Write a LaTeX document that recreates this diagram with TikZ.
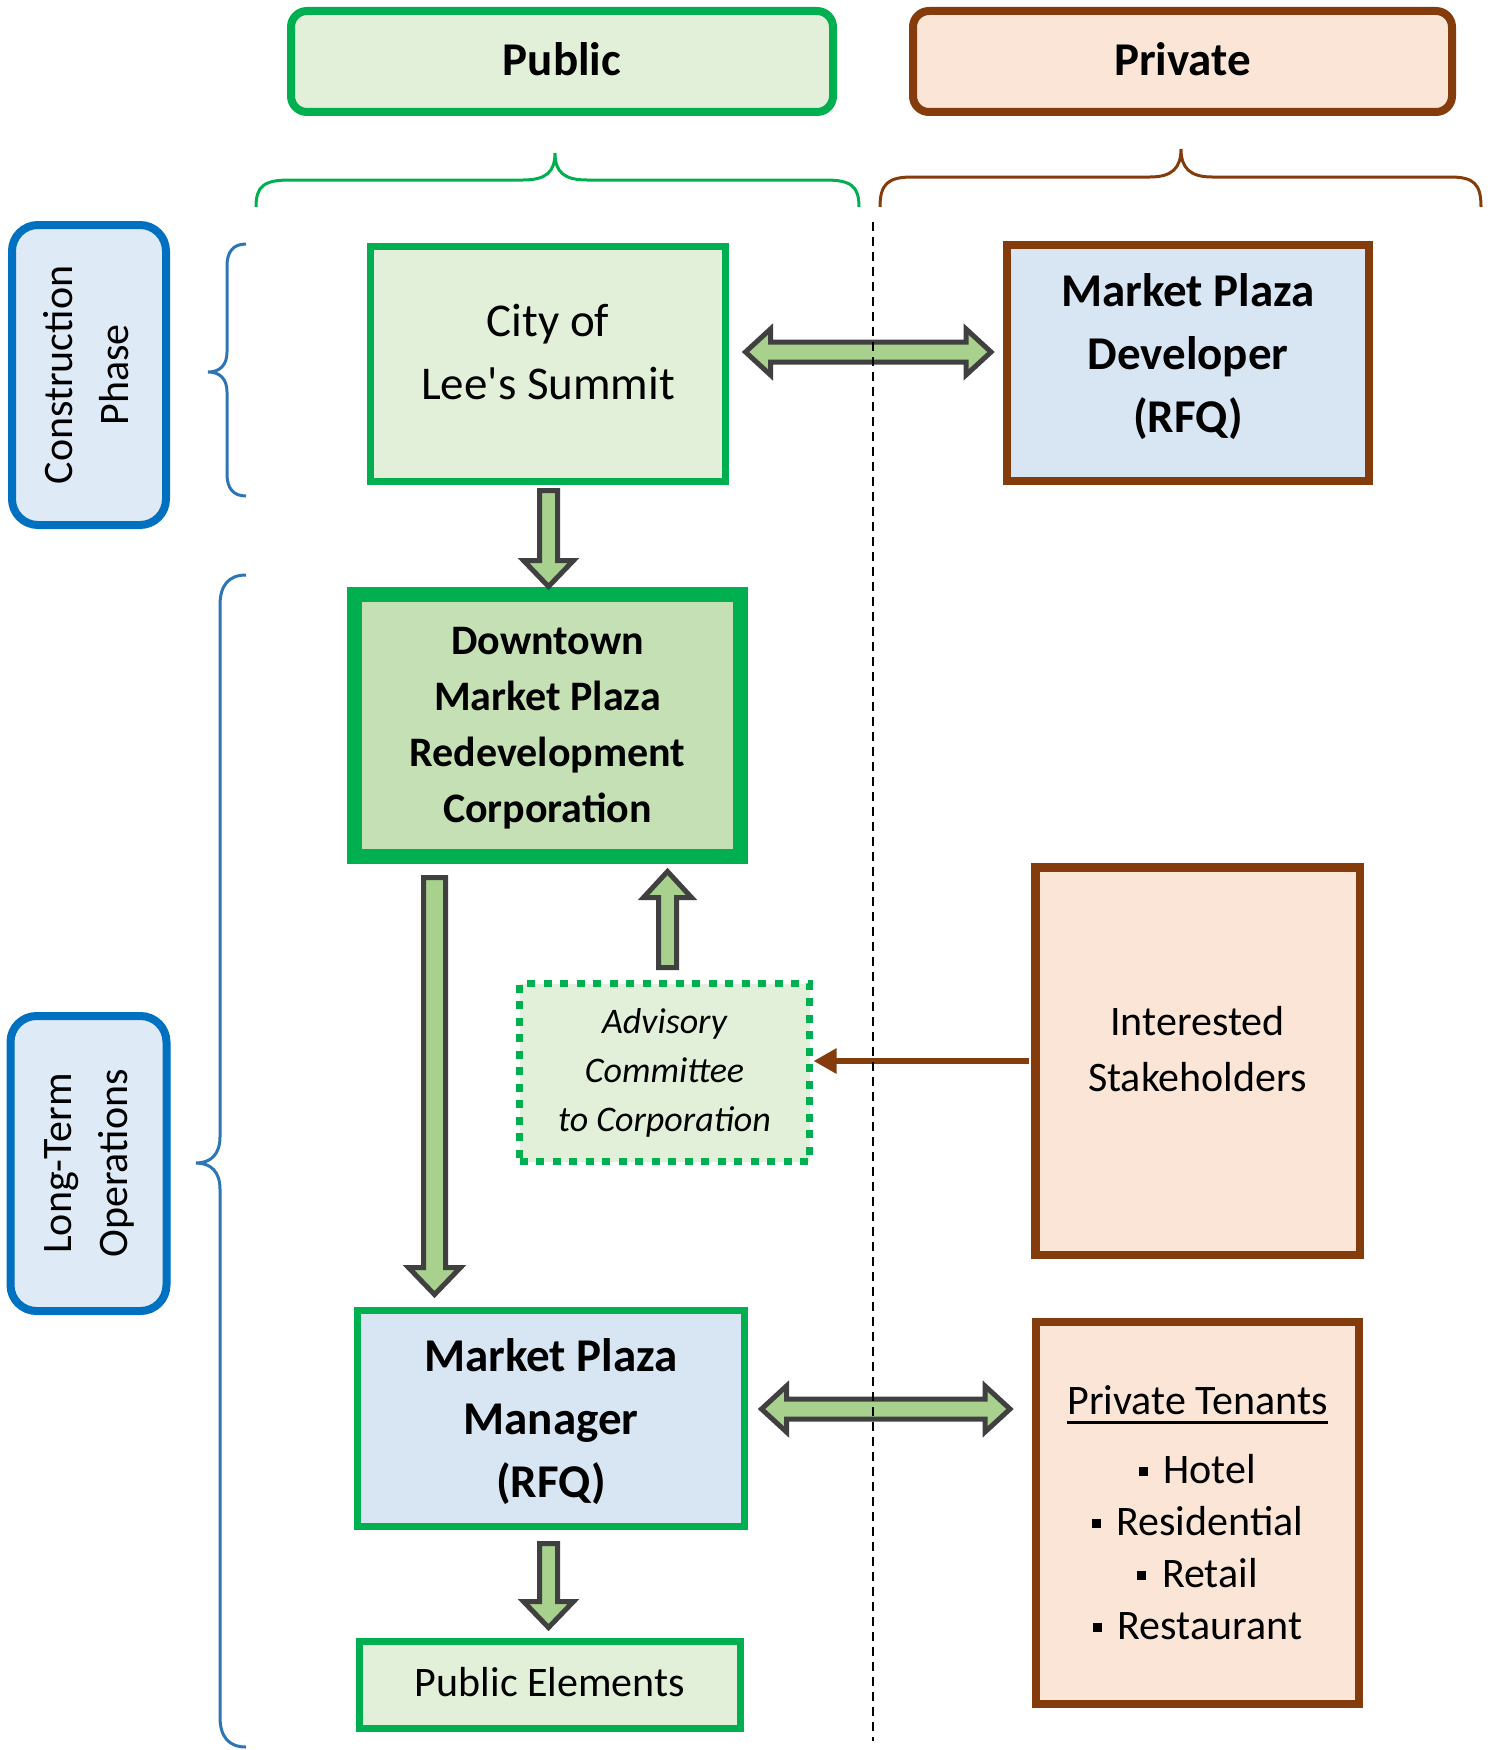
\documentclass[tikz,border=0pt]{standalone}
\usepackage{fontspec}
\usepackage{graphicx}
\setmainfont{Carlito}
\usetikzlibrary{calc,arrows.meta}
\definecolor{pgreen}{HTML}{00B050}
\definecolor{lgreen}{HTML}{E2F0D9}
\definecolor{mgreen}{HTML}{C5E0B4}
\definecolor{brownc}{HTML}{843C0C}
\definecolor{peach}{HTML}{FBE5D6}
\definecolor{blueb}{HTML}{0070C0}
\definecolor{lblue}{HTML}{DEEBF7}
\definecolor{texblue}{HTML}{D8E6F4}
\definecolor{afill}{HTML}{A9D18E}
\definecolor{adraw}{HTML}{404040}
\definecolor{bbrace}{HTML}{2E75B6}
\newcommand\fA{\fontsize{47}{63}\selectfont}
\newcommand\fB{\fontsize{42}{56}\selectfont}
\newcommand\fC{\fontsize{36}{49}\selectfont}
\newsavebox\ulbox
\newcommand\ulx[1]{\sbox\ulbox{#1}\rlap{\rule[-9pt]{\wd\ulbox}{2.5pt}}\usebox\ulbox}
\newcommand\sqb{\rule[0.19em]{0.21em}{0.21em}\hspace{0.38em}}
\newcommand\downblock[5]{%
  \draw[blockarrow] let \p1=(#1), \p2=(#2) in
  (\x1-#3pt,\y1) -- (\x1+#3pt,\y1) -- (\x1+#3pt,\y2+#5pt) -- (\x1+#4pt,\y2+#5pt)
  -- (\x1,\y2) -- (\x1-#4pt,\y2+#5pt) -- (\x1-#3pt,\y2+#5pt) -- cycle;}
\newcommand\upblock[5]{%
  \draw[blockarrow] let \p1=(#1), \p2=(#2) in
  (\x1-#3pt,\y1) -- (\x1+#3pt,\y1) -- (\x1+#3pt,\y2-#5pt) -- (\x1+#4pt,\y2-#5pt)
  -- (\x1,\y2) -- (\x1-#4pt,\y2-#5pt) -- (\x1-#3pt,\y2-#5pt) -- cycle;}
\newcommand\hdouble[5]{%
  \draw[blockarrow] let \p1=(#1), \p2=(#2) in
  (\x1,\y1) -- (\x1+#5pt,\y1+#4pt) -- (\x1+#5pt,\y1+#3pt) -- (\x2-#5pt,\y1+#3pt)
  -- (\x2-#5pt,\y1+#4pt) -- (\x2,\y1) -- (\x2-#5pt,\y1-#4pt) -- (\x2-#5pt,\y1-#3pt)
  -- (\x1+#5pt,\y1-#3pt) -- (\x1+#5pt,\y1-#4pt) -- cycle;}
\begin{document}
\begin{tikzpicture}[x=1pt,y=-1pt,
  box/.style={inner sep=0pt, outer sep=0pt},
  hdrg/.style={box, draw=pgreen, fill=lgreen, line width=8pt, rounded corners=16pt,
    font=\bfseries\fA},
  hdrb/.style={box, draw=brownc, fill=peach, line width=8pt, rounded corners=16pt,
    font=\bfseries\fA},
  phasebox/.style={box, draw=blueb, fill=lblue, line width=8pt, rounded corners=26pt,
    font=\fontsize{42}{56}\selectfont},
  gbox/.style={box, draw=pgreen, fill=lgreen, line width=7pt},
  gtexbox/.style={box, draw=pgreen, fill=texblue, line width=7pt},
  btexbox/.style={box, draw=brownc, fill=texblue, line width=8pt},
  pbox/.style={box, draw=brownc, fill=peach, line width=8.5pt},
  dmpbox/.style={box, draw=pgreen, fill=mgreen, line width=15pt},
  advbox/.style={box, draw=pgreen, fill=lgreen, line width=7pt,
    dash pattern=on 8pt off 8.5pt, align=center, font=\itshape\fC},
  txtA/.style={inner sep=0pt, align=center, font=\fA},
  txtAb/.style={inner sep=0pt, align=center, font=\bfseries\fA},
  txtB/.style={inner sep=0pt, align=center, font=\fB},
  txtBb/.style={inner sep=0pt, align=center, font=\bfseries\fB},
  blockarrow/.style={fill=afill, draw=adraw, line width=5pt, line join=miter},
  brarrow/.style={draw=brownc, line width=6pt, -{Triangle[length=23pt,width=24pt]}},
  gbrace/.style={draw=pgreen, line width=3pt},
  brbrace/.style={draw=brownc, line width=3pt},
  blbrace/.style={draw=bbrace, line width=3pt},
  divider/.style={draw=black, line width=2pt, dash pattern=on 9pt off 6pt}
]
\useasboundingbox (0,0) rectangle (1500,1750);

% headers
\node[hdrg, minimum width=542pt, minimum height=101pt] (pub) at (562,61.5) {};
\node[txtAb] (pubtxt) at (562,59) {Public};
\node[hdrb, minimum width=539pt, minimum height=101pt] (priv) at (1182.5,61.5) {};
\node[txtAb] (privtxt) at (1182.5,59) {Private};

% braces
\draw[gbrace] (256,207) .. controls (256,186) and (264,180) .. (290,180) -- (523,180)
  .. controls (546,180) and (555,172) .. (555,153)
  .. controls (555,172) and (564,180) .. (587,180) -- (825,180)
  .. controls (851,180) and (859,186) .. (859,207);
\draw[brbrace] (880,207) .. controls (880,184) and (888,177) .. (912,177) -- (1150,177)
  .. controls (1172,177) and (1181,168) .. (1181,149)
  .. controls (1181,168) and (1190,177) .. (1212,177) -- (1450,177)
  .. controls (1474,177) and (1481,184) .. (1481,207);
\draw[blbrace] (246,244) .. controls (233,244) and (227,252) .. (227,266) -- (227,352)
  .. controls (227,365) and (220,372) .. (208,372)
  .. controls (220,372) and (227,379) .. (227,392) -- (227,474)
  .. controls (227,488) and (233,496) .. (246,496);
\draw[blbrace] (246,575) .. controls (229,575) and (220,585) .. (220,605) -- (220,1137)
  .. controls (220,1154) and (211,1163) .. (196,1163)
  .. controls (211,1163) and (220,1172) .. (220,1189) -- (220,1717)
  .. controls (220,1737) and (229,1747) .. (246,1747);

% phase boxes
\node[phasebox, minimum width=154pt, minimum height=300pt] (cons) at (89,375)
  {\rotatebox{90}{\begin{tabular}{@{}c@{}}Construction\\Phase\end{tabular}}};
\node[phasebox, minimum width=156pt, minimum height=295pt] (ltop) at (88.5,1163.5)
  {\rotatebox{90}{\begin{tabular}{@{}c@{}}Long-Term\\Operations\end{tabular}}};

% main boxes
\node[gbox, minimum width=355pt, minimum height=235pt] (city) at (548,364) {};
\node[txtA] (citytxt) at (548,352.5) {City of\\Lee\textquotesingle s Summit};

\node[btexbox, minimum width=362pt, minimum height=236pt] (dev) at (1188,363) {};
\node[txtAb] (devtxt) at (1188,357) {Market Plaza\\Developer\\(RFQ)};

\node[dmpbox, minimum width=386pt, minimum height=262pt] (dmp) at (547.5,725.5) {};
\node[txtBb] (dmptxt) at (547.5,728.5)
  {Downtown\\Market Plaza\\Redevelopment\\Corporation};

\node[advbox, minimum width=290pt, minimum height=178pt] (adv) at (664.5,1072.5)
  {Advisory\\Committee\\to Corporation};

\node[pbox, minimum width=324.5pt, minimum height=387.5pt] (stake) at (1197.5,1061) {};
\node[txtB] (staketxt) at (1197.5,1049.5) {Interested\\Stakeholders};

\node[gtexbox, minimum width=387pt, minimum height=216pt] (mgr) at (551,1418.5) {};
\node[txtAb] (mgrtxt) at (551,1422) {Market Plaza\\Manager\\(RFQ)};

\node[gbox, minimum width=381pt, minimum height=87pt] (pe) at (550,1685) {};
\node[txtB] (petxt) at (550,1682) {Public Elements};

\node[pbox, minimum width=323pt, minimum height=382pt, align=center,
  font=\fontsize{42}{52}\selectfont] (pt) at (1197.5,1513)
  {\ulx{Private Tenants}\\[17pt]\sqb Hotel\\\sqb Residential\\\sqb Retail\\\sqb Restaurant};

% block arrows
\downblock{$(city.south)+(0.5,9)$}{$(dmp.north)+(0,-8)$}{9}{25}{26}
\downblock{$(dmp.south)+(-113,21)$}{$(mgr.north)+(0,-16)$}{11}{26}{27}
\upblock{$(adv.north)+(3,-16)$}{$(dmp.south)+(0,15)$}{9}{24}{26}
\downblock{$(mgr.south)+(-2.5,17)$}{$(pe.north)+(0,-14)$}{9}{25}{26}
\hdouble{$(city.east)+(20,-12)$}{$(dev.west)+(-16,-12)$}{10}{23}{25}
\hdouble{$(mgr.east)+(17,-9.5)$}{$(pt.west)+(-26,-9.5)$}{10}{23}{25}

% brown arrow
\draw[brarrow, shorten <=6pt, shorten >=4pt] (stake.west) -- (stake.west -| adv.east);

% divider
\coordinate (dtop) at (873,222);
\coordinate (dbot) at (873,1741);
\draw[divider] (dtop) -- (dbot);
\end{tikzpicture}
\end{document}
